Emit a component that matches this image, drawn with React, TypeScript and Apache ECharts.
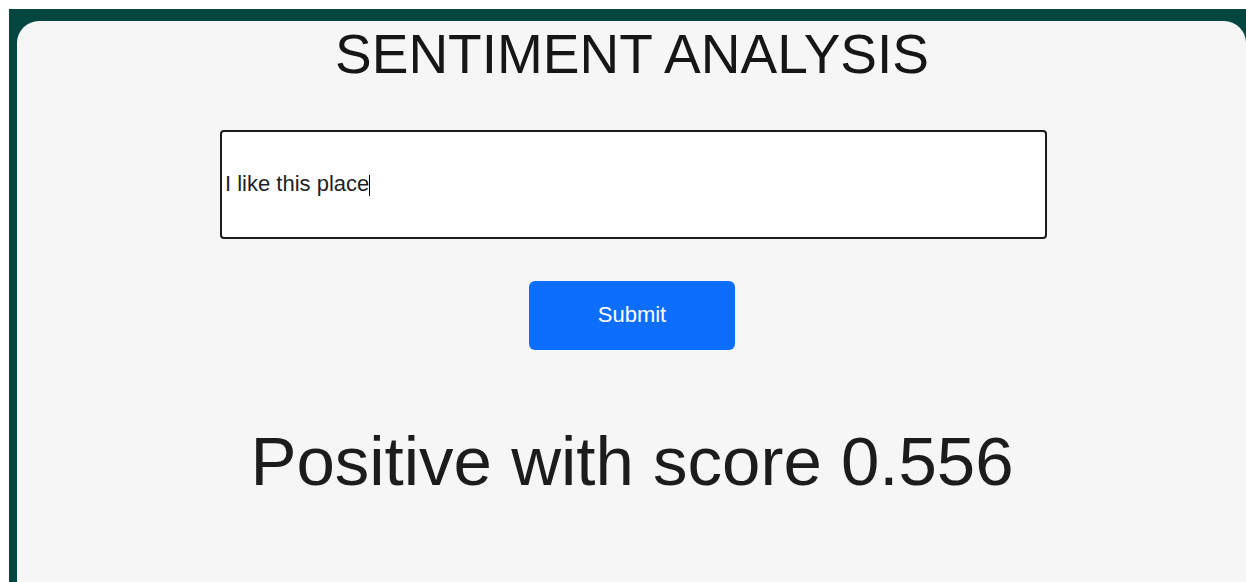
import React, { useEffect, useRef } from "react";
import * as echarts from "echarts";

const titleText = ["SENTIMENT ANALYSIS"];
const inputText = ["I like this place"];
const buttonText = ["Submit"];
const resultLabel = ["Positive"];
const resultScore = [0.556];

const FONT = "'Liberation Sans', Arial, sans-serif";

export default function App() {
  const ref = useRef<HTMLDivElement>(null);
  useEffect(() => {
    if (!ref.current) return;
    const chart = echarts.init(ref.current, null, { renderer: "svg" });
    const resultStr = `${resultLabel[0]} with score ${resultScore[0].toFixed(3)}`;
    chart.setOption({
      animation: false,
      backgroundColor: "#ffffff",
      graphic: [
        { type: "rect", shape: { x: 9, y: 9, width: 1237, height: 573 }, style: { fill: "#03453f" } },
        { type: "rect", shape: { x: 17, y: 21, width: 1229, height: 600, r: [22, 22, 0, 0] }, style: { fill: "#f6f6f6" } },
        {
          type: "text", x: 632, y: 54,
          style: { text: titleText[0], font: `55px ${FONT}`, fill: "#161616", align: "center", verticalAlign: "middle" },
        },
        { type: "rect", shape: { x: 221, y: 131, width: 825, height: 107, r: 3 }, style: { fill: "#ffffff", stroke: "#1b1b1b", lineWidth: 2 } },
        {
          type: "text", x: 225, y: 183,
          style: { text: inputText[0], font: `22px ${FONT}`, fill: "#1f1f1f", align: "left", verticalAlign: "middle" },
        },
        { type: "line", shape: { x1: 369.5, y1: 175, x2: 369.5, y2: 196 }, style: { stroke: "#000", lineWidth: 1 } },
        { type: "rect", shape: { x: 529, y: 281, width: 206, height: 69, r: 6 }, style: { fill: "#0d6efd" } },
        {
          type: "text", x: 632, y: 314,
          style: { text: buttonText[0], font: `22px ${FONT}`, fill: "#ffffff", align: "center", verticalAlign: "middle" },
        },
        {
          type: "text", x: 632, y: 461,
          style: { text: resultStr, font: `69px ${FONT}`, fill: "#1c1c1c", align: "center", verticalAlign: "middle" },
        },
      ],
    });
    return () => chart.dispose();
  }, []);
  return <div ref={ref} style={{ position: "absolute", left: 0, top: 0, width: 1246, height: 582 }} />;
}
